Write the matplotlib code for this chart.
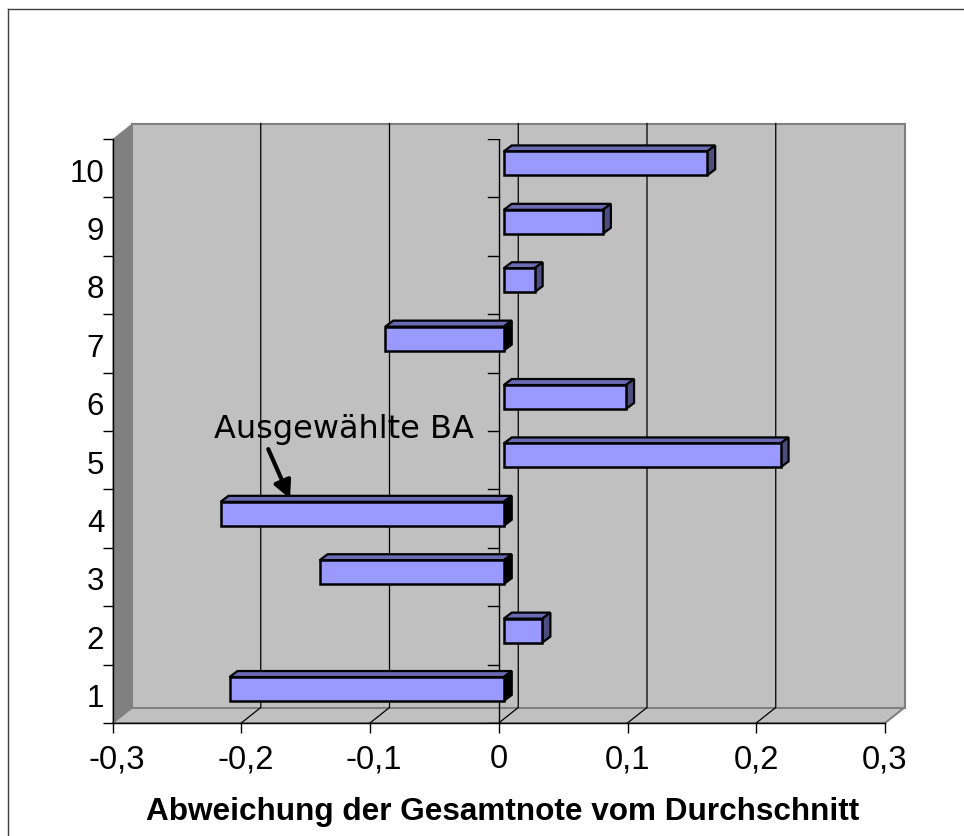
import matplotlib
matplotlib.use('Agg')
import matplotlib.pyplot as plt
from matplotlib.lines import Line2D
from matplotlib.patches import Polygon
from matplotlib.transforms import ScaledTranslation

categories = [1, 2, 3, 4, 5, 6, 7, 8, 9, 10]
values = [-0.213, 0.030, -0.143, -0.220, 0.215, 0.095, -0.092, 0.024, 0.077, 0.158]
x_ticks = [-0.3, -0.2, -0.1, 0, 0.1, 0.2, 0.3]
x_labels = ['-0,3', '-0,2', '-0,1', '0', '0,1', '0,2', '0,3']
x_title = 'Abweichung der Gesamtnote vom Durchschnitt'
note = 'Ausgewählte BA'

W, H = 964, 836
ax_l, ax_r, ax_t, ax_b = 112.5, 885, 139, 723

fig = plt.figure(figsize=(W / 100, H / 100), dpi=100)
ax = fig.add_axes([ax_l / W, 1 - ax_b / H, (ax_r - ax_l) / W, (ax_b - ax_t) / H])
ax.set_xlim(-0.3, 0.3)
ax.set_ylim(0.5, 10.5)
ax.patch.set_visible(False)

# pixel steps in data units, the 3d look is just offsets
px = 0.6 / (ax_r - ax_l)
py = 10 / (ax_b - ax_t)
wall_dx, wall_dy = 19.5 * px, 15.5 * py
bar_dx, bar_dy = 5 * px, 4.8 * py
side_dx, side_dy = 8 * px, 6 * py
bar_h = 0.41


def poly(points, face, edge='none', lw=0.0, z=1):
    ax.add_patch(Polygon(points, closed=True, facecolor=face, edgecolor=edge,
                         linewidth=lw, zorder=z, clip_on=False, joinstyle='miter'))


# walls
x0, x1, y0, y1 = -0.3, 0.3, 0.5, 10.5
poly([(x0, y0), (x0 + wall_dx, y0 + wall_dy), (x0 + wall_dx, y1 + wall_dy), (x0, y1)], '#808080', z=1)
poly([(x0, y0), (x0 + wall_dx, y0 + wall_dy), (x1 + wall_dx, y0 + wall_dy), (x1, y0)], '#c0c0c0', '#808080', 1.5, z=1)
poly([(x0 + wall_dx, y0 + wall_dy), (x0 + wall_dx, y1 + wall_dy),
      (x1 + wall_dx, y1 + wall_dy), (x1 + wall_dx, y0 + wall_dy)], '#c0c0c0', '#808080', 1.5, z=1)

# grid on back wall and floor
for t in x_ticks[1:-1]:
    ax.plot([t, t + wall_dx, t + wall_dx], [y0, y0 + wall_dy, y1 + wall_dy],
            color='black', lw=0.9, zorder=2, clip_on=False)

# zero line with its short ticks
ax.plot([0, 0], [y0, y1], color='black', lw=1.0, zorder=2)
for c in categories + [0]:
    ax.plot([-11 * px, 0], [c + 0.5, c + 0.5], color='black', lw=1.0, zorder=2)

# bars
for c, v in zip(categories, values):
    left = bar_dx + min(v, 0)
    right = bar_dx + max(v, 0)
    bot = c - bar_h / 2 + bar_dy
    top = c + bar_h / 2 + bar_dy
    side_color = 'black' if v < 0 else '#4d4d80'
    poly([(left, top), (left + side_dx, top + side_dy), (right + side_dx, top + side_dy), (right, top)],
         '#6b6bb3', 'black', 1.6, z=3)
    poly([(right, bot), (right + side_dx, bot + side_dy), (right + side_dx, top + side_dy), (right, top)],
         side_color, 'black', 1.6, z=3)
    ax.barh(c + bar_dy, v, height=bar_h, left=bar_dx, color='#9999ff', edgecolor='black',
            linewidth=1.8, zorder=4, clip_on=False)

# axes, ticks, labels
for s in ['top', 'right']:
    ax.spines[s].set_visible(False)
ax.spines['left'].set_linewidth(1.0)
ax.spines['bottom'].set_linewidth(1.0)
ax.spines['left'].set_zorder(5)
ax.spines['bottom'].set_zorder(5)

ax.set_xticks(x_ticks)
ax.set_xticklabels(x_labels, fontfamily='Liberation Sans', fontsize=23.6)
ax.tick_params(axis='x', length=7.2, width=1.0, pad=8)

# minus labels sit a bit to the right in the original
shift = ScaledTranslation(4 / 100, 0, fig.dpi_scale_trans)
for lab, text in zip(ax.get_xticklabels(), x_labels):
    if text.startswith('-'):
        lab.set_transform(lab.get_transform() + shift)

ax.set_yticks(categories)
ax.set_yticklabels(categories, fontfamily='Liberation Sans', fontsize=22.5)
ax.set_yticks([c + 0.5 for c in [0] + categories], minor=True)
ax.tick_params(axis='y', which='major', length=0, pad=6)
ax.tick_params(axis='y', which='minor', length=7.2, width=1.0)
down = ScaledTranslation(0, -2 / 100, fig.dpi_scale_trans)
for lab in ax.get_yticklabels():
    lab.set_transform(lab.get_transform() + down)

fig.text(502.5 / W, 1 - 812 / H, x_title, fontfamily='Liberation Sans', fontweight='bold',
         fontsize=22.7, ha='center', va='center')

# annotation
ax.text(-0.2215, 5.52, note, fontfamily='DejaVu Sans', fontsize=23, ha='left', va='center', zorder=6)
ax.annotate('', xy=(-0.1621, 4.34), xytext=(-0.179, 5.19),
            arrowprops=dict(arrowstyle='-|>,head_length=0.7,head_width=0.35', color='black', lw=3,
                            mutation_scale=15, shrinkA=0, shrinkB=0), zorder=6, annotation_clip=False)

# outer frame
fig.add_artist(Line2D([8 / W, 1], [1 - 9 / H, 1 - 9 / H], color='#404040', lw=1.0))
fig.add_artist(Line2D([8 / W, 8 / W], [0, 1 - 9 / H], color='#404040', lw=1.0))

fig.savefig('out.png', dpi=100)
